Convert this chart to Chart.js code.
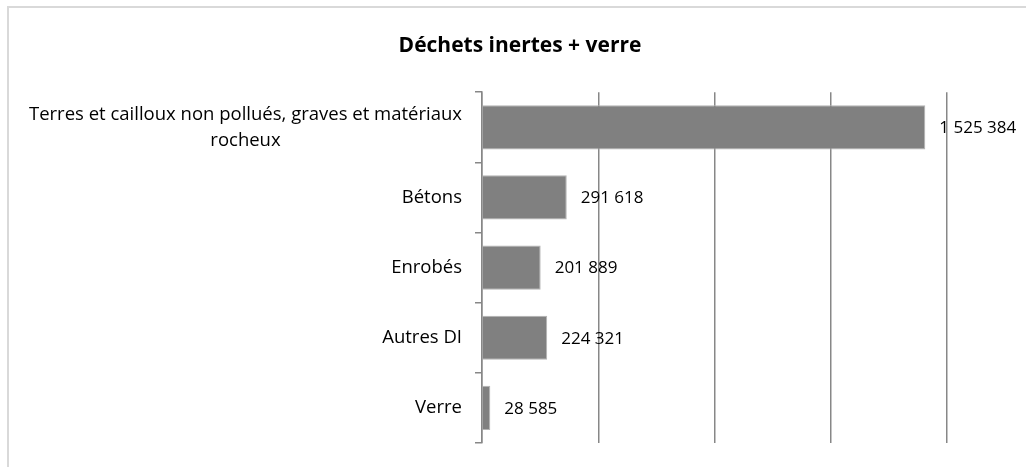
<!DOCTYPE html>
<html lang="fr">
<head>
<meta charset="utf-8">
<title>Déchets inertes + verre</title>
<script src="https://cdn.jsdelivr.net/npm/chart.js@4.4.1/dist/chart.umd.min.js"></script>
<style>
  html, body { margin: 0; padding: 0; background: #fff; overflow: hidden; }
  #wrap { position: relative; width: 1026px; height: 467px; overflow: hidden; }
  #frame {
    position: absolute; left: 7px; top: 6px; width: 2000px; height: 2000px;
    border-left: 2px solid #d9d9d9; border-top: 2px solid #d9d9d9;
  }
  #box { position: absolute; left: 0; top: 0; width: 1040px; height: 467px; }
</style>
</head>
<body>
<div id="wrap">
  <div id="frame"></div>
  <div id="box"><canvas id="chart"></canvas></div>
</div>
<script>
/* data */
const categories = [
  ["Terres et cailloux non pollués, graves et matériaux", "rocheux"],
  "Bétons",
  "Enrobés",
  "Autres DI",
  "Verre"
];
const tonnages = [1525384, 291618, 201889, 224321, 28585];
const axisMax = 1600000;
const axisStep = 400000;

const FONT = "'Open Sans', 'Noto Sans', sans-serif";
const GRID = "#878787";

const fmt = v => String(v).replace(/\B(?=(\d{3})+(?!\d))/g, " ");

// category labels: widest line right-aligned, other lines centred under it
const catLabels = {
  id: "catLabels",
  afterDraw(chart) {
    const y = chart.scales.y, ctx = chart.ctx;
    const right = chart.chartArea.left - 20;
    ctx.save();
    ctx.font = "18.5px " + FONT;
    ctx.fillStyle = "#000";
    ctx.textAlign = "center";
    ctx.textBaseline = "middle";
    categories.forEach((c, i) => {
      const lines = Array.isArray(c) ? c : [c];
      const w = Math.max(...lines.map(l => ctx.measureText(l).width));
      const cy = y.getPixelForTick(i);
      const lh = 26;
      lines.forEach((l, k) => {
        ctx.fillText(l, right - w / 2, cy + (k - (lines.length - 1) / 2) * lh);
      });
    });
    ctx.restore();
  }
};

// value labels after each bar
const valueLabels = {
  id: "valueLabels",
  afterDatasetsDraw(chart) {
    const ctx = chart.ctx;
    const meta = chart.getDatasetMeta(0);
    ctx.save();
    ctx.font = "17px " + FONT;
    ctx.fillStyle = "#000";
    ctx.textAlign = "left";
    ctx.textBaseline = "middle";
    meta.data.forEach((bar, i) => {
      ctx.fillText(fmt(tonnages[i]), bar.x + 14, bar.y + 1);
    });
    ctx.restore();
  }
};

new Chart(document.getElementById("chart"), {
  type: "bar",
  data: {
    labels: categories,
    datasets: [{
      data: tonnages,
      backgroundColor: "#808080",
      borderColor: "#b3b3b3",
      borderWidth: 1,
      categoryPercentage: 1,
      barPercentage: 0.63
    }]
  },
  options: {
    indexAxis: "y",
    responsive: true,
    maintainAspectRatio: false,
    animation: false,
    layout: { padding: { left: 0, right: 0, top: 0, bottom: 24 } },
    plugins: {
      legend: { display: false },
      tooltip: { enabled: false },
      title: {
        display: true,
        text: "Déchets inertes + verre",
        color: "#000",
        font: { family: FONT, size: 21, weight: "bold" },
        padding: { top: 33, bottom: 34 }
      }
    },
    scales: {
      x: {
        min: 0,
        max: axisMax,
        ticks: { display: false, stepSize: axisStep },
        grid: { color: GRID, lineWidth: 1.5, drawTicks: false },
        border: { display: false },
        afterFit: s => { s.height = 0; }
      },
      y: {
        ticks: { display: false },
        grid: { drawOnChartArea: false, drawTicks: true, tickLength: 7, color: GRID, lineWidth: 1.5, offset: true },
        border: { display: true, color: GRID, width: 1.5 },
        afterFit: s => { s.width = 482; }
      },
      // empty right-hand axis: room for the value labels, keeps the title centred on the frame
      yRight: {
        type: "category",
        position: "right",
        ticks: { display: false },
        grid: { display: false },
        border: { display: false },
        afterFit: s => { s.width = 93; }
      }
    }
  },
  plugins: [catLabels, valueLabels]
});
</script>
</body>
</html>
